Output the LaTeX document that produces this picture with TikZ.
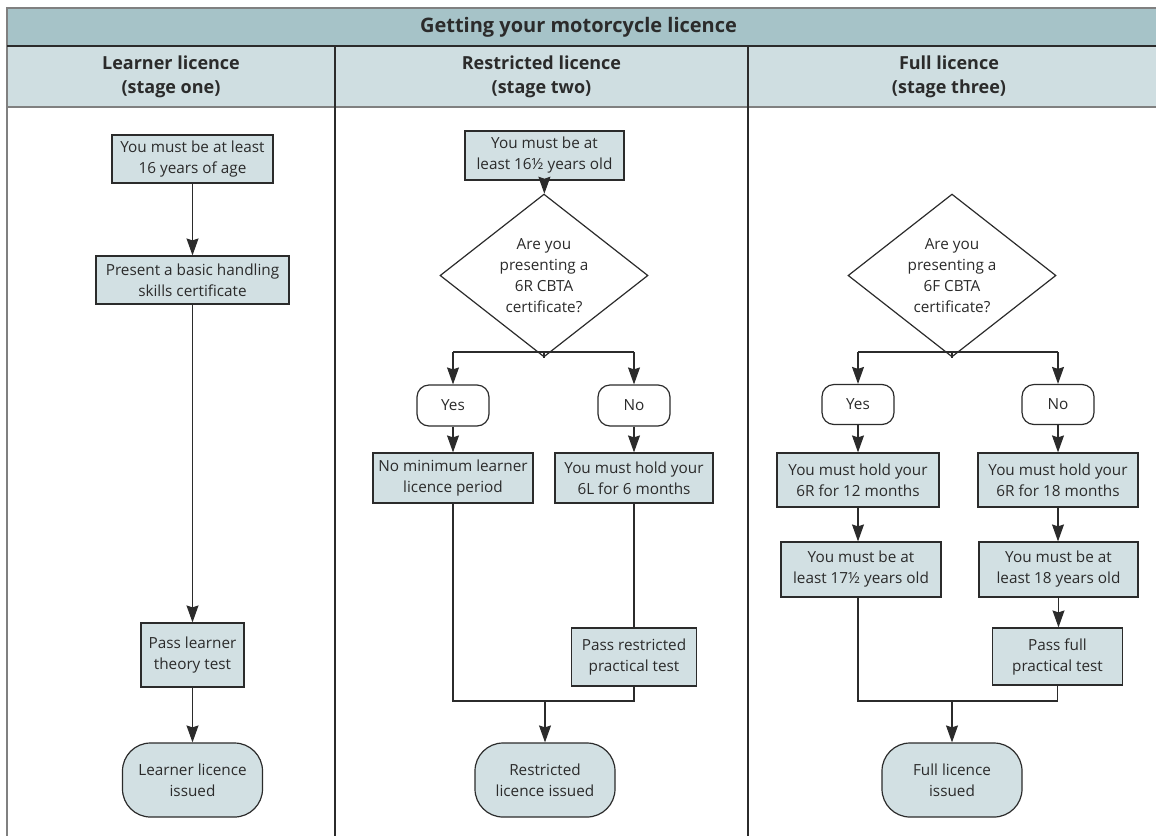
\documentclass[tikz,border=0pt]{standalone}
\usepackage{fontspec}
\setmainfont{Open Sans}
\usetikzlibrary{shapes.geometric,arrows.meta}
\definecolor{titlebg}{HTML}{A6C3C8}
\definecolor{headbg}{HTML}{CFDEE1}
\definecolor{boxbg}{HTML}{D2E0E3}
\definecolor{ink}{HTML}{2B2B2B}
\definecolor{rule}{HTML}{808080}
\tikzset{
  base/.style={draw=ink, line width=1.2pt, text=ink, align=center, inner sep=0pt,
    font=\fontsize{15.3}{21}\selectfont},
  stepbox/.style={base, fill=boxbg, rectangle},
  endbox/.style={base, fill=boxbg, rectangle, rounded corners=28pt},
  answer/.style={base, fill=white, rectangle, rounded corners=12pt},
  decide/.style={base, fill=white, diamond},
  conn/.style={draw=ink, line width=1.2pt},
  arr/.style={conn, -{Stealth[length=17pt,width=12pt,inset=2pt,fill=ink]}},
  headtxt/.style={text=ink, align=center, font=\bfseries\fontsize{18}{24}\selectfont},
}
\begin{document}
\begin{tikzpicture}[x=1pt,y=-1pt]
\useasboundingbox (0,0) rectangle (1156,836);
% frame and headers
\fill[titlebg] (7,8) rectangle (1156,46);
\fill[headbg] (7,46) rectangle (1156,107);
\draw[draw=rule, line width=1.5pt] (1156,8) -- (7,8) -- (7,836);
\draw[conn] (7,46) -- (1156,46);
\draw[draw=rule, line width=1.5pt] (7,107) -- (1156,107);
\draw[conn] (335,46) -- (335,836);
\draw[conn] (748,46) -- (748,836);
\node[headtxt, font=\bfseries\fontsize{20}{24}\selectfont] (title) at (578.5,27) {Getting your motorcycle licence};
\node[headtxt] (h1) at (171,76.5) {Learner licence\\(stage one)};
\node[headtxt] (h2) at (541.5,76.5) {Restricted licence\\(stage two)};
\node[headtxt] (h3) at (949,76.5) {Full licence\\(stage three)};

% column 1
\node[stepbox, minimum width=161pt, minimum height=48pt] (a1) at (192.5,159) {You must be at least\\16 years of age};
\node[stepbox, minimum width=193pt, minimum height=48pt] (a2) at (192.5,280) {Present a basic handling\\skills certificate};
\node[stepbox, minimum width=103pt, minimum height=64pt] (a3) at (192.5,655) {Pass learner\\theory test};
\node[endbox, minimum width=140pt, minimum height=74pt] (a4) at (192.5,780) {Learner licence\\issued};
\draw[arr] (a1) -- (a2);
\draw[arr] (a2) -- (a3);
\draw[arr] (a3) -- (a4);

% column 2
\node[stepbox, minimum width=159pt, minimum height=49pt] (b1) at (544.5,155.5) {You must be at\\least 16½ years old};
\node[decide, minimum width=208pt, minimum height=141pt] (b2) at (544,275.5) {Are you\\presenting a\\6R CBTA\\certificate?};
\node[answer, minimum width=72pt, minimum height=41pt] (by) at (453,405.5) {Yes};
\node[answer, minimum width=72pt, minimum height=41pt] (bn) at (634,405.5) {No};
\node[stepbox, minimum width=160pt, minimum height=50pt] (bl) at (453,478) {No minimum learner\\licence period};
\node[stepbox, minimum width=158pt, minimum height=50pt] (br) at (634,478) {You must hold your\\6L for 6 months};
\node[stepbox, minimum width=125pt, minimum height=58pt] (bp) at (634,657) {Pass restricted\\practical test};
\node[endbox, minimum width=140pt, minimum height=74pt] (bt) at (545,780) {Restricted\\licence issued};
\coordinate (bj) at (544,352);
\coordinate (bm) at (545,701);
\draw[arr] (b1) -- (b2);
\draw[conn] (b2.south) -- (bj);
\draw[conn] (bj -| by.north) -- (bj -| bn.north);
\draw[arr] (bj -| by.north) -- (by.north);
\draw[arr] (bj -| bn.north) -- (bn.north);
\draw[arr] (by) -- (bl);
\draw[arr] (bn) -- (br);
\draw[conn] (br) -- (bp);
\draw[conn] (bl.south) |- (bm -| bp.south) -- (bp.south);
\draw[arr] (bm) -- (bt.north);

% column 3
\node[decide, minimum width=208pt, minimum height=141pt] (c2) at (952,275.5) {Are you\\presenting a\\6F CBTA\\certificate?};
\node[answer, minimum width=72pt, minimum height=40pt] (cy) at (858,404.5) {Yes};
\node[answer, minimum width=72pt, minimum height=40pt] (cn) at (1058,404.5) {No};
\node[stepbox, minimum width=162pt, minimum height=54pt] (cl1) at (858,480) {You must hold your\\6R for 12 months};
\node[stepbox, minimum width=160pt, minimum height=54pt] (cr1) at (1058,480) {You must hold your\\6R for 18 months};
\node[stepbox, minimum width=160pt, minimum height=55pt] (cl2) at (861,569.5) {You must be at\\least 17½ years old};
\node[stepbox, minimum width=159pt, minimum height=55pt] (cr2) at (1058.5,569.5) {You must be at\\least 18 years old};
\node[stepbox, minimum width=130pt, minimum height=57pt] (cp) at (1057.5,656.5) {Pass full\\practical test};
\node[endbox, minimum width=140pt, minimum height=74pt] (ct) at (952,780) {Full licence\\issued};
\coordinate (cj) at (952,352);
\coordinate (cm) at (952,701);
\draw[conn] (c2.south) -- (cj);
\draw[conn] (cj -| cy.north) -- (cj -| cn.north);
\draw[arr] (cj -| cy.north) -- (cy.north);
\draw[arr] (cj -| cn.north) -- (cn.north);
\draw[arr] (cy) -- (cl1);
\draw[arr] (cn) -- (cr1);
\draw[arr] (cl1.south) -- (cl1.south |- cl2.north);
\draw[arr] (cr1.south) -- (cr1.south |- cr2.north);
\draw[arr] (cr2.south) -- (cr2.south |- cp.north);
\draw[conn] (cl1.south |- cl2.south) |- (cm -| cp.south) -- (cp.south);
\draw[arr] (cm) -- (ct.north);
\end{tikzpicture}
\end{document}
